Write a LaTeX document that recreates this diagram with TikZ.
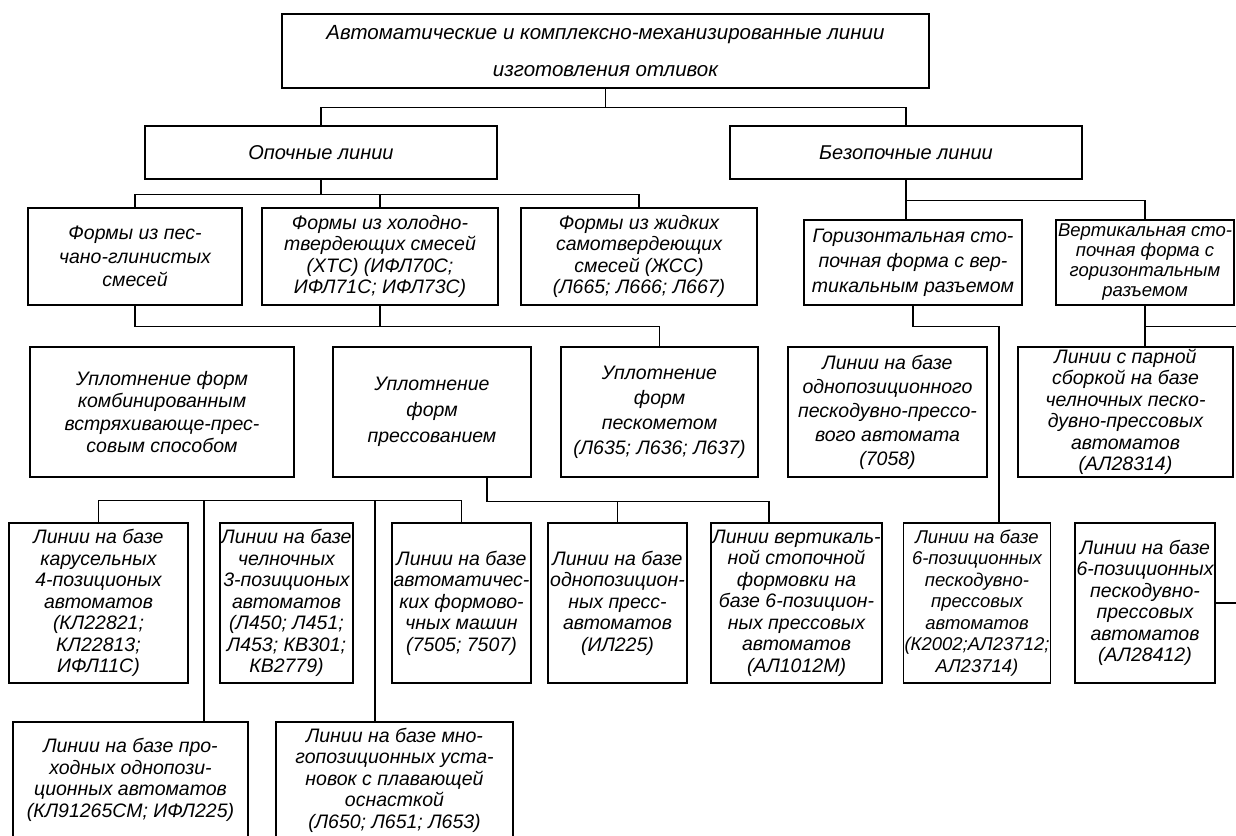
\documentclass[tikz,border=0pt]{standalone}
\usepackage{fontspec}
\setmainfont{Liberation Sans}
\usetikzlibrary{calc}

\begin{document}
\begin{tikzpicture}[x=1pt,y=-1pt,
    block/.style={draw,line width=1.4pt,align=center,inner sep=1pt,
                  font=\itshape\fontsize{19.5}{21.5}\selectfont},
    wide/.style={font=\itshape\fontsize{19.5}{#1}\selectfont},
    link/.style={draw,line width=1.3pt}]
  \useasboundingbox[fill=white] (0,0) rectangle (1236,835);
  % upper levels
  \node[block,minimum width=647,minimum height=74,
        font=\itshape\fontsize{20.5}{37}\selectfont] (avto) at (605.5,51)
      {Автоматические и комплексно-механизированные линии\\изготовления отливок};
  \node[block,minimum width=352,minimum height=53,font=\itshape\fontsize{20}{24}\selectfont] (opoch) at (321,152.5) {Опочные линии};
  \node[block,minimum width=352,minimum height=53,font=\itshape\fontsize{20}{24}\selectfont] (bezop) at (906,152.5) {Безопочные линии};
  % forms
  \node[block,wide=23.5,minimum width=214,minimum height=97] (pesch) at (135,256.5) {Формы из пес-\\чано-глинистых\\смесей};
  \node[block,minimum width=236,minimum height=97] (xts) at (380,256.5) {Формы из холодно-\\твердеющих смесей\\(ХТС) (ИФЛ70С;\\ИФЛ71С; ИФЛ73С)};
  \node[block,minimum width=236,minimum height=97] (jss) at (639,256.5) {Формы из жидких\\самотвердеющих\\смесей (ЖСС)\\(Л665; Л666; Л667)};
  \node[block,wide=25,minimum width=218,minimum height=85] (goriz) at (913,262.5) {Горизонтальная сто-\\почная форма с вер-\\тикальным разъемом};
  \node[block,minimum width=178,minimum height=85,font=\itshape\fontsize{18.5}{20}\selectfont] (vert) at (1145,262.5) {Вертикальная сто-\\почная форма с\\горизонтальным\\разъемом};
  % compaction
  \node[block,wide=22.5,minimum width=264,minimum height=130] (vstrah) at (162,412) {Уплотнение форм\\комбинированным\\встряхивающе-прес-\\совым способом};
  \node[block,wide=26,minimum width=198,minimum height=130] (press) at (432,412) {Уплотнение\\форм\\прессованием};
  \node[block,wide=25,minimum width=197,minimum height=130] (peskomet) at (659.5,412) {Уплотнение\\форм\\пескометом\\(Л635; Л636; Л637)};
  \node[block,wide=24,minimum width=199,minimum height=130] (odnopesk) at (887.5,412) {Линии на базе\\однопозиционного\\пескодувно-прессо-\\вого автомата\\(7058)};
  \node[block,minimum width=215,minimum height=130] (parn) at (1125.5,412) {Линии с парной\\сборкой на базе\\челночных песко-\\дувно-прессовых\\автоматов\\(АЛ28314)};
  % lines
  \node[block,minimum width=179,minimum height=160] (karus) at (98.5,603) {Линии на базе\\карусельных\\4-позиционых\\автоматов\\(КЛ22821;\\КЛ22813;\\ИФЛ11С)};
  \node[block,minimum width=133,minimum height=160] (cheln) at (286.5,603) {Линии на базе\\челночных\\3-позиционых\\автоматов\\(Л450; Л451;\\Л453; КВ301;\\КВ2779)};
  \node[block,minimum width=139,minimum height=160] (formmash) at (461.5,603) {Линии на базе\\автоматичес-\\ких формово-\\чных машин\\(7505; 7507)};
  \node[block,minimum width=139,minimum height=160] (pressavt) at (617.5,603) {Линии на базе\\однопозицион-\\ных пресс-\\автоматов\\(ИЛ225)};
  \node[block,minimum width=171,minimum height=160] (vertstop) at (796.5,603) {Линии вертикаль-\\ной стопочной\\формовки на\\базе 6-позицион-\\ных прессовых\\автоматов\\(АЛ1012М)};
  \node[block,minimum width=144,minimum height=160,font=\itshape\fontsize{18.5}{21.5}\selectfont] (shest) at (977,603) {Линии на базе\\6-позиционных\\пескодувно-\\прессовых\\автоматов\\(К2002;АЛ23712;\\АЛ23714)};
  \node[block,minimum width=140,minimum height=160] (shestb) at (1145,603) {Линии на базе\\6-позиционных\\пескодувно-\\прессовых\\автоматов\\(АЛ28412)};
  \node[block,minimum width=235,minimum height=116] (prohod) at (130.5,780) {Линии на базе про-\\ходных однопози-\\ционных автоматов\\(КЛ91265СМ; ИФЛ225)};
  \node[block,minimum width=237,minimum height=116] (mnogo) at (394.5,780) {Линии на базе мно-\\гопозиционных уста-\\новок с плавающей\\оснасткой\\(Л650; Л651; Л653)};
  \coordinate (redge) at (1240,0);
  \path (vert.south) ++(0,21) coordinate (vbus);
  % connectors
  \draw[link] (avto.south) -- ++(0,19) -| (opoch.north);
  \draw[link] (avto.south) ++(0,19) -| (bezop.north);
  \draw[link] (opoch.south) -- ++(0,15) -| (pesch.north);
  \draw[link] (opoch.south) ++(0,15) -| (xts.north);
  \draw[link] (opoch.south) ++(0,15) -| (jss.north);
  \draw[link] (pesch.south) -- ++(0,21) -| (peskomet.north);
  \draw[link] (xts.south) -- ++(0,21);
  \draw[link] (bezop.south) -- (bezop.south |- goriz.north);
  \draw[link] (bezop.south) ++(0,21) -| (vert.north);
  \draw[link] (goriz.south) -- ++(0,21) -| ($(shest.north)+(22,0)$);
  \draw[link] (vert.south) -- (vbus) -| ($(parn.north)+(19.5,0)$);
  \draw[link] (vbus) -- (vbus -| redge);
  \draw[link] ($(press.south)+(55,0)$) -- ++(0,24) -| ($(vertstop.north)+(-27.5,0)$);
  \draw[link] ($(press.south)+(55,0)$) ++(0,24) -| (pressavt.north);
  \draw[link] (karus.north) -- ++(0,-22) -| (formmash.north);
  \draw[link] ($(prohod.north)+(73.5,0)$) -- ++(0,-221);
  \draw[link] ($(mnogo.north)+(-19.5,0)$) -- ++(0,-221);
  \draw[link] (shestb.east) -- (shestb.east -| redge);
\end{tikzpicture}
\end{document}
